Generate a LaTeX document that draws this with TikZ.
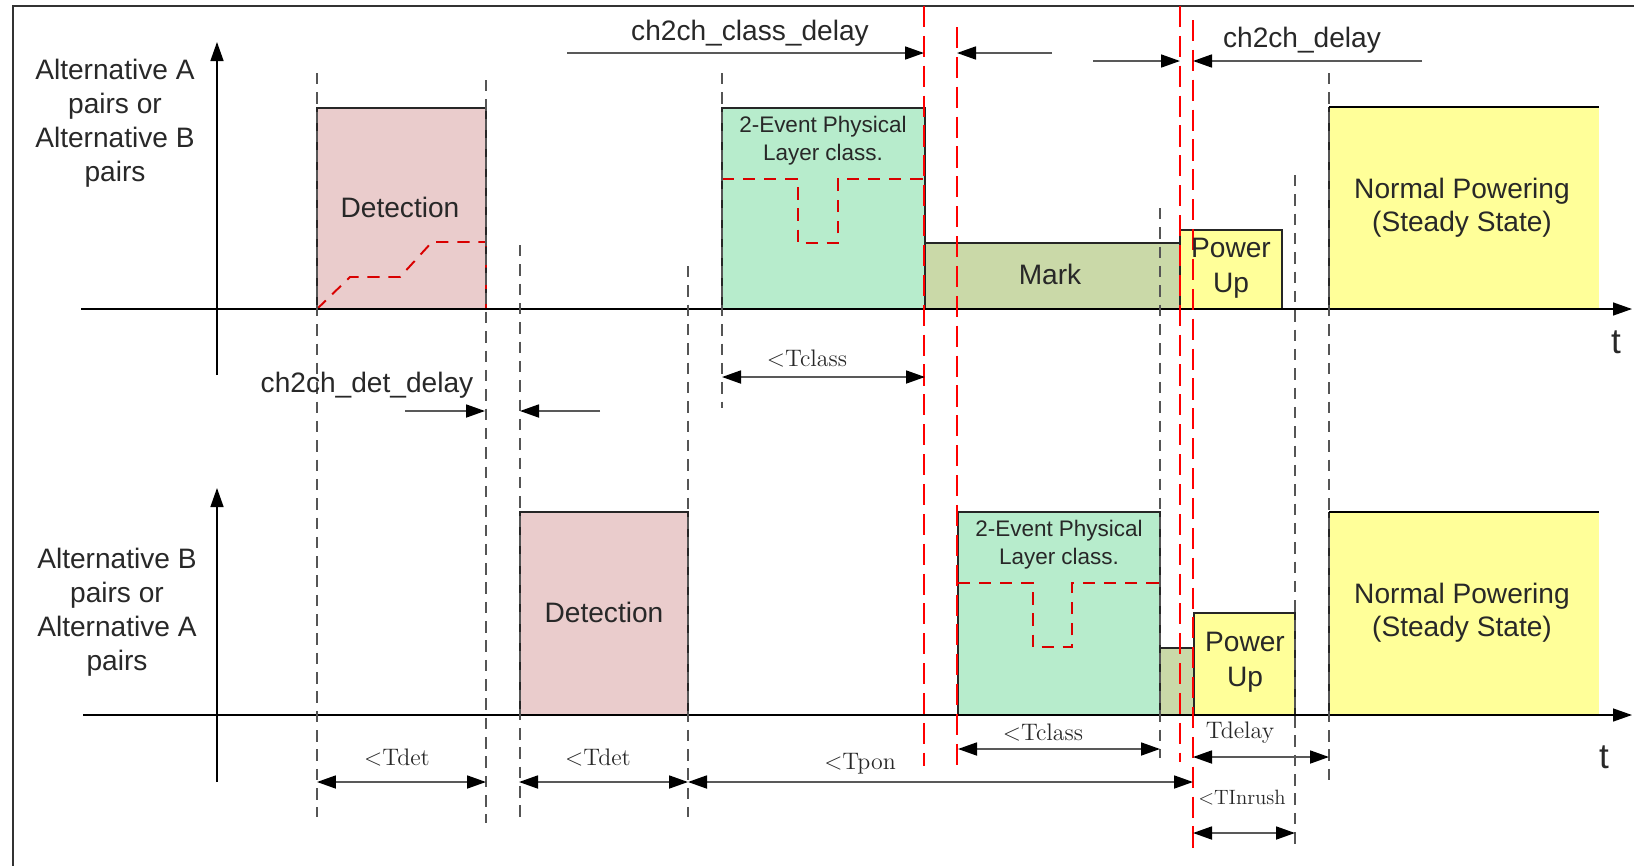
\documentclass[tikz,border=0pt]{standalone}
\usepackage{fontspec}
\setsansfont{Liberation Sans}
\usetikzlibrary{arrows.meta}
\definecolor{detpink}{RGB}{234,204,204}
\definecolor{classgreen}{RGB}{183,236,204}
\definecolor{markgreen}{RGB}{202,217,168}
\definecolor{pwryellow}{RGB}{255,255,153}
\definecolor{txtgray}{RGB}{40,40,40}
\definecolor{guidegray}{RGB}{85,85,85}
\tikzset{
  lbl/.style={font=\sffamily\fontsize{16}{19.3}\selectfont,text=txtgray,align=center,inner sep=0pt},
  small/.style={font=\sffamily\fontsize{12.8}{15.9}\selectfont,text=txtgray,align=center,inner sep=0pt},
  dimlbl/.style={font=\rmfamily\fontsize{13.6}{16}\selectfont,text=txtgray,inner sep=0pt},
  box/.style={draw=black!85,line width=0.8pt},
  guide/.style={draw=guidegray,line width=0.9pt,dash pattern=on 6.5pt off 4.5pt},
  redguide/.style={draw=red,line width=1.6pt,dash pattern=on 12pt off 5pt},
  sig/.style={draw=red!85!black,line width=1.1pt,dash pattern=on 7pt off 5pt},
  axis/.style={draw=black,line width=0.8pt,-{Triangle[length=3.8mm,width=2.6mm,color=black]}},
  line/.style={draw=black!65,line width=1pt,-{Triangle[length=3.8mm,width=2.6mm,color=black]}},
  dim/.style={draw=black!65,line width=1pt,{Triangle[length=3.8mm,width=2.6mm,color=black]}-{Triangle[length=3.8mm,width=2.6mm,color=black]}}
}

\begin{document}
\begin{tikzpicture}[x=0.02cm,y=-0.02cm]
\useasboundingbox (0,0) rectangle (1634,866);
\draw[black!80,line width=1.1pt] (13,866) -- (13,6) -- (1634,6);

% upper channel
\filldraw[box,fill=detpink] (317,309) rectangle (486,108);
\filldraw[box,fill=classgreen] (722,309) rectangle (925,108);
\filldraw[box,fill=markgreen] (925,309) rectangle (1180,243);
\filldraw[box,fill=pwryellow] (1180,309) rectangle (1282,230);
\fill[pwryellow] (1329,309) rectangle (1599,107);
\draw[box] (1329,309) -- (1329,107);
\draw[black,line width=1.6pt] (1329,107) -- (1599,107);
\draw[sig] (317,309) -- (350,277) -- (400,277) -- (432,242) -- (486,242) -- (486,309);
\draw[sig] (722,179) -- (798,179) -- (798,243) -- (838,243) -- (838,179) -- (925,179);

% lower channel
\filldraw[box,fill=detpink] (520,715) rectangle (688,512);
\filldraw[box,fill=classgreen] (958,715) rectangle (1160,512);
\filldraw[box,fill=markgreen] (1160,715) rectangle (1194,648);
\filldraw[box,fill=pwryellow] (1194,715) rectangle (1295,613);
\fill[pwryellow] (1329,715) rectangle (1599,512);
\draw[box] (1329,715) -- (1329,512);
\draw[black,line width=1.6pt] (1329,512) -- (1599,512);
\draw[sig] (958,583) -- (1033,583) -- (1033,647) -- (1072,647) -- (1072,583) -- (1160,583);

% axes
\coordinate (ua0) at (81,309);  \coordinate (ua1) at (1632,309);
\coordinate (uy0) at (217,375); \coordinate (uy1) at (217,42);
\coordinate (la0) at (83,715);  \coordinate (la1) at (1632,715);
\coordinate (ly0) at (217,782); \coordinate (ly1) at (217,488);
\draw[axis] (ua0) -- (ua1);
\draw[axis] (uy0) -- (uy1);
\draw[axis] (la0) -- (la1);
\draw[axis] (ly0) -- (ly1);
\node[lbl,font=\sffamily\fontsize{20}{20}\selectfont] (tUp) at (1616,342) {t};
\node[lbl,font=\sffamily\fontsize{20}{20}\selectfont] (tLow) at (1604,757) {t};

% guide lines
\draw[guide] (317,73) -- (317,817);
\draw[guide] (486,80) -- (486,823);
\draw[guide] (520,245) -- (520,817);
\draw[guide] (688,266) -- (688,817);
\draw[guide] (722,73) -- (722,408);
\draw[guide] (1160,208) -- (1160,758);
\draw[guide] (1295,175) -- (1295,850);
\draw[guide] (1329,73) -- (1329,783);
\draw[redguide] (924,6) -- (924,766);
\draw[redguide] (957,27) -- (957,766);
\draw[redguide] (1180,6) -- (1180,762);
\draw[redguide] (1193,20) -- (1193,854);

% box texts
\node[lbl] (lblUp) at (115,123) {Alternative A\\pairs or\\Alternative B\\pairs};
\node[lbl] (lblLow) at (117,612) {Alternative B\\pairs or\\Alternative A\\pairs};
\node[lbl] (detUp) at (400,207) {Detection};
\node[lbl] (detLow) at (604,612) {Detection};
\node[small] (classUp) at (823,141) {2-Event Physical\\Layer class.};
\node[small] (classLow) at (1059,545) {2-Event Physical\\Layer class.};
\node[lbl] (markUp) at (1050,274) {Mark};
\node[lbl,font=\sffamily\fontsize{16}{19.8}\selectfont] (pwrUp) at (1231,268) {Power\\Up};
\node[lbl,font=\sffamily\fontsize{16}{19.8}\selectfont] (pwrLow) at (1245,662) {Power\\Up};
\node[lbl,font=\sffamily\fontsize{16}{18.7}\selectfont] (normUp) at (1462,208) {Normal Powering\\(Steady State)};
\node[lbl,font=\sffamily\fontsize{16}{18.7}\selectfont] (normLow) at (1462,613) {Normal Powering\\(Steady State)};

% channel to channel delays
\coordinate (cc0) at (567,53);  \coordinate (cc1) at (924,53);
\coordinate (cc2) at (1052,53); \coordinate (cc3) at (957,53);
\coordinate (cd0) at (1093,61); \coordinate (cd1) at (1180,61);
\coordinate (cd2) at (1422,61); \coordinate (cd3) at (1193,61);
\coordinate (dd0) at (405,411); \coordinate (dd1) at (485,411);
\coordinate (dd2) at (600,411); \coordinate (dd3) at (520,411);
\draw[line] (cc0) -- (cc1);
\draw[line] (cc2) -- (cc3);
\draw[line] (cd0) -- (cd1);
\draw[line] (cd2) -- (cd3);
\draw[line] (dd0) -- (dd1);
\draw[line] (dd2) -- (dd3);
\node[lbl] (ccLbl) at (750,33) {ch2ch\_class\_delay};
\node[lbl] (cdLbl) at (1302,40) {ch2ch\_delay};
\node[lbl] (ddLbl) at (367,385) {ch2ch\_det\_delay};

% timing limits
\coordinate (tc0) at (722,377);  \coordinate (tc1) at (925,377);
\coordinate (td0) at (317,782);  \coordinate (td1) at (486,782);
\coordinate (td2) at (519,782);  \coordinate (td3) at (688,782);
\coordinate (tp1) at (1193,782);
\coordinate (tl0) at (958,749);  \coordinate (tl1) at (1160,749);
\coordinate (ty0) at (1193,757); \coordinate (ty1) at (1329,757);
\coordinate (ti0) at (1193,833); \coordinate (ti1) at (1295,833);
\draw[dim] (tc0) -- (tc1);
\draw[dim] (td0) -- (td1);
\draw[dim] (td2) -- (td3);
\draw[dim] (td3) -- (tp1);
\draw[dim] (tl0) -- (tl1);
\draw[dim] (ty0) -- (ty1);
\draw[dim] (ti0) -- (ti1);
\node[dimlbl] (tcUp) at (807,359) {<Tclass};
\node[dimlbl] (tdA) at (397,758) {<Tdet};
\node[dimlbl] (tdB) at (598,758) {<Tdet};
\node[dimlbl] (tpon) at (860,764) {<Tpon};
\node[dimlbl] (tcLow) at (1043,733) {<Tclass};
\node[dimlbl] (tdelay) at (1240,733) {Tdelay};
\node[dimlbl,font=\rmfamily\fontsize{11.8}{14}\selectfont] (tinrush) at (1242,798) {<TInrush};
\end{tikzpicture}
\end{document}
